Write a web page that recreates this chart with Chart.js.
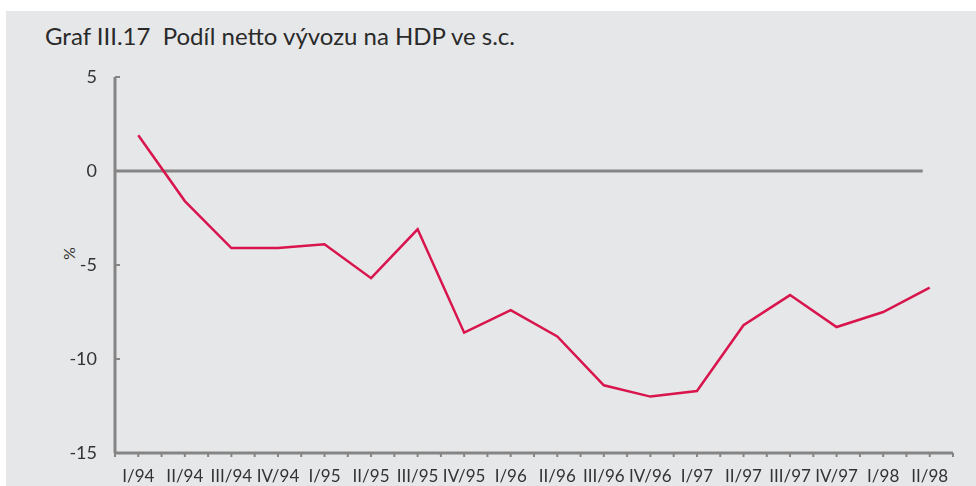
<!DOCTYPE html>
<html>
<head>
<meta charset="utf-8">
<script src="https://cdn.jsdelivr.net/npm/chart.js@4"></script>
<style>
  html, body { margin:0; padding:0; background:#fff; }
  #wrap { position:absolute; left:6px; top:11px; width:970px; height:475px; background:#e6e7e9; }
  #title { position:absolute; left:45px; top:21px; font-family:Lato, "Open Sans", sans-serif; font-size:24px; color:#2a2a2a; white-space:pre; }
  #ylab { position:absolute; left:62px; top:244px; font-family:Lato, sans-serif; font-size:16px; color:#333; transform:rotate(-90deg); }
  canvas { position:absolute; left:0; top:0; }
</style>
</head>
<body>
<div id="wrap"></div>
<div id="title">Graf III.17  Podíl netto vývozu na HDP ve s.c.</div>
<div id="ylab">%</div>
<canvas id="chart" width="976" height="486"></canvas>
<script>
// čtvrtletí
const labels = ['I/94','II/94','III/94','IV/94','I/95','II/95','III/95','IV/95','I/96',
                'II/96','III/96','IV/96','I/97','II/97','III/97','IV/97','I/98','II/98'];
// podíl netto vývozu na HDP (%)
const netExport = [1.9, -1.6, -4.1, -4.1, -3.9, -5.7, -3.1, -8.6, -7.4,
                   -8.8, -11.4, -12.0, -11.7, -8.2, -6.6, -8.3, -7.5, -6.2];
const yTicks = [5, 0, -5, -10, -15];

const AXIS = '#858585';

// osy, malé značky a nulová linka
const axisPlugin = {
  id: 'axisPlugin',
  beforeDatasetsDraw(chart) {
    const {ctx, chartArea, scales} = chart;
    const x = scales.x, y = scales.y;
    ctx.save();
    ctx.strokeStyle = AXIS;
    ctx.lineWidth = 3;
    // nulová linka
    const y0 = y.getPixelForValue(0);
    ctx.beginPath();
    ctx.moveTo(chartArea.left, y0);
    ctx.lineTo(x.getPixelForValue(labels.length - 1) - 7, y0);
    ctx.stroke();
    // osa y
    ctx.beginPath();
    ctx.moveTo(chartArea.left, chartArea.top);
    ctx.lineTo(chartArea.left, chartArea.bottom);
    ctx.stroke();
    // osa x
    ctx.beginPath();
    ctx.moveTo(chartArea.left, chartArea.bottom);
    ctx.lineTo(chartArea.right, chartArea.bottom);
    ctx.stroke();
    ctx.lineWidth = 2;
    yTicks.forEach(v => {
      const p = y.getPixelForValue(v);
      ctx.beginPath();
      ctx.moveTo(chartArea.left, p);
      ctx.lineTo(chartArea.left + 5, p);
      ctx.stroke();
    });
    for (let i = -0.5; i <= labels.length - 0.5; i += 0.5) {
      const p = x.getPixelForValue(i);
      ctx.beginPath();
      ctx.moveTo(p, chartArea.bottom);
      ctx.lineTo(p, chartArea.bottom + 4);
      ctx.stroke();
    }
    ctx.restore();
  }
};

new Chart(document.getElementById('chart').getContext('2d'), {
  type: 'line',
  data: {
    labels: labels,
    datasets: [{
      data: netExport,
      borderColor: '#d8154d',
      borderWidth: 2.5,
      pointRadius: 0,
      tension: 0,
      fill: false
    }]
  },
  options: {
    responsive: false,
    animation: false,
    layout: { padding: { top: 77, right: 23, bottom: 0, left: 0 } },
    plugins: { legend: { display: false }, tooltip: { enabled: false } },
    scales: {
      x: {
        offset: true,
        grid: { display: false, tickLength: 0 },
        border: { display: false },
        afterFit: s => { s.height = 33; },
        ticks: {
          autoSkip: false, maxRotation: 0, padding: 13,
          color: '#333',
          font: { family: 'Lato, "Open Sans", sans-serif', size: 17 }
        }
      },
      y: {
        min: -15, max: 5,
        afterFit: s => { s.width = 115; },
        afterBuildTicks: s => { s.ticks = yTicks.map(v => ({ value: v })); },
        grid: { display: false },
        border: { display: false },
        ticks: {
          padding: 10,
          color: '#333',
          font: { family: 'Lato, "Open Sans", sans-serif', size: 18 }
        }
      }
    }
  },
  plugins: [axisPlugin]
});
</script>
</body>
</html>
